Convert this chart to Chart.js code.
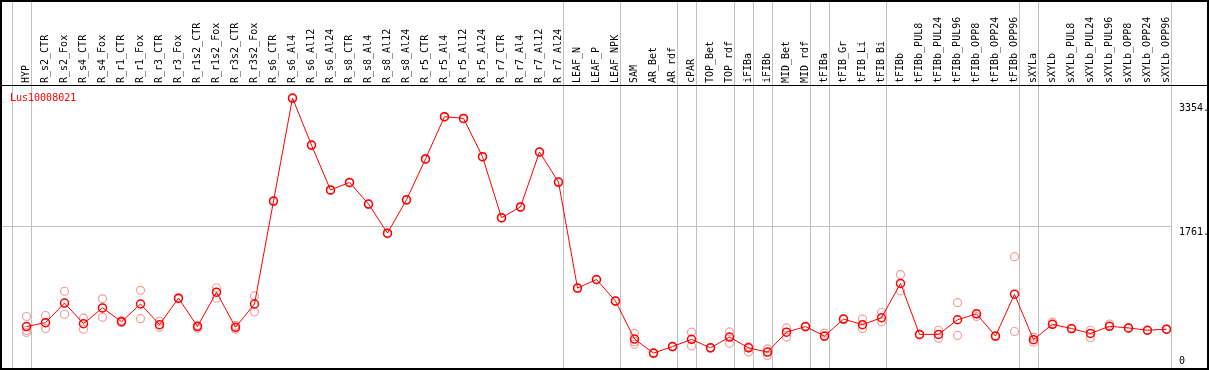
<!DOCTYPE html>
<html>
<head>
<meta charset="utf-8">
<script src="https://cdn.jsdelivr.net/npm/chart.js@4.4.1/dist/chart.umd.min.js"></script>
<style>
  html, body { margin: 0; padding: 0; background: #fff; }
  #wrap { width: 1209px; height: 370px; }
</style>
</head>
<body>
<div id="wrap"><canvas id="expr" width="1209" height="370"></canvas></div>
<script>
// Lus10008021 — expression par échantillon (moyenne + réplicats)

const geneName = "Lus10008021";

const samples = [
  "HYP", "R_s2_CTR", "R_s2_Fox", "R_s4_CTR", "R_s4_Fox", "R_r1_CTR", "R_r1_Fox",
  "R_r3_CTR", "R_r3_Fox", "R_r1s2_CTR", "R_r1s2_Fox", "R_r3s2_CTR", "R_r3s2_Fox",
  "R_s6_CTR", "R_s6_Al4", "R_s6_Al12", "R_s6_Al24", "R_s8_CTR", "R_s8_Al4",
  "R_s8_Al12", "R_s8_Al24", "R_r5_CTR", "R_r5_Al4", "R_r5_Al12", "R_r5_Al24",
  "R_r7_CTR", "R_r7_Al4", "R_r7_Al12", "R_r7_Al24", "LEAF_N", "LEAF_P", "LEAF_NPK",
  "SAM", "AR_Bet", "AR_rdf", "cPAR", "TOP_Bet", "TOP_rdf", "iFIBa", "iFIBb",
  "MID_Bet", "MID_rdf", "tFIBa", "tFIB_Gr", "tFIB_Li", "tFIB_Bi", "tFIBb",
  "tFIBb_PUL8", "tFIBb_PUL24", "tFIBb_PUL96", "tFIBb_OPP8", "tFIBb_OPP24", "tFIBb_OPP96",
  "sXYLa", "sXYLb", "sXYLb_PUL8", "sXYLb_PUL24", "sXYLb_PUL96", "sXYLb_OPP8",
  "sXYLb_OPP24", "sXYLb_OPP96"
];

// moyenne
const meanValues = [
  499, 548, 793, 535, 732, 560, 781, 523, 854, 499, 928, 490, 781,
  2067, 3354, 2766, 2206, 2300, 2030, 1666, 2083, 2594, 3121, 3100, 2622,
  1859, 1994, 2680, 2304, 980, 1087, 817,
  343, 168, 249, 339, 233, 368, 233, 180,
  429, 499, 380, 592, 523, 609, 1038,
  401, 401, 584, 658, 380, 903,
  335, 527, 474, 413, 502, 482, 453, 466
];

// réplicats
const rep1 = [
  625, 637, 940, 604, 845, 576, 952, 564, 858, 515, 984, 515, 882,
  2067, 3354, 2766, 2206, 2300, 2030, 1666, 2083, 2594, 3121, 3100, 2622,
  1859, 1994, 2680, 2304, 980, 1087, 817,
  413, 168, 249, 429, 233, 433, 249, 221,
  482, 499, 417, 592, 592, 678, 1148,
  401, 453, 797, 625, 380, 1372,
  368, 555, 474, 453, 531, 482, 453, 466
];
const rep2 = [
  450, 474, 653, 466, 616, 551, 597, 490, 845, 478, 854, 466, 682,
  2060, 3348, 2760, 2200, 2294, 2024, 1660, 2077, 2588, 3115, 3094, 2616,
  1853, 1988, 2674, 2298, 975, 1082, 812,
  278, 160, 245, 257, 228, 290, 180, 138,
  368, 495, 376, 588, 474, 558, 944,
  395, 352, 388, 658, 376, 437,
  303, 527, 470, 359, 502, 478, 449, 462
];
const rep3 = [
  425, null, null, null, null, null, null, null, null, null, null, null, null,
  null, null, null, null, null, null, null, null, null, null, null, null,
  null, null, null, null, null, null, null,
  310, null, null, null, null, null, null, null,
  null, null, null, null, null, null, null,
  null, null, null, null, null, null,
  null, null, null, null, null, null, null, null
];

// dernier échantillon de chaque groupe (trait vertical gris après)
const groupEnds = [-1, 0, 28, 31, 34, 35, 37, 38, 39, 41, 42, 45, 52, 53, 60];

const yTicks = [0, 1761, 3354];

const MONO = "'DejaVu Sans Mono', monospace";
const PALE = "#f0a0a0";

const ctx = document.getElementById("expr").getContext("2d");

const repDataset = (values) => ({
  data: values,
  showLine: false,
  pointRadius: 4,
  pointBorderWidth: 1.2,
  pointBorderColor: PALE,
  pointBackgroundColor: "rgba(0,0,0,0)"
});

new Chart(ctx, {
  type: "line",
  data: {
    labels: samples,
    datasets: [
      {
        data: meanValues,
        borderColor: "#ff0000",
        borderWidth: 1,
        tension: 0,
        pointRadius: 4,
        pointBorderWidth: 1.5,
        pointBorderColor: "#ff0000",
        pointBackgroundColor: "rgba(0,0,0,0)"
      },
      repDataset(rep1),
      repDataset(rep2),
      repDataset(rep3)
    ]
  },
  options: {
    responsive: false,
    animation: false,
    layout: { padding: { left: 17, top: 0, right: 0, bottom: 0 } },
    scales: {
      x: {
        position: "top",
        offset: true,
        grid: { display: false, drawTicks: false, tickLength: 0 },
        border: { display: false },
        afterFit: s => { s.height = 85; },
        ticks: {
          autoSkip: false,
          minRotation: 90,
          maxRotation: 90,
          padding: 2,
          labelOffset: 12,
          color: "#000",
          font: { family: MONO, size: 10 }
        }
      },
      y: {
        position: "right",
        min: 25,
        max: 3517,
        grid: { display: false },
        border: { display: false },
        ticks: { display: false },
        afterFit: s => { s.width = 33; }
      }
    },
    plugins: {
      legend: { display: false },
      tooltip: { enabled: false }
    }
  },
  plugins: [{
    id: "cadre",
    beforeDatasetsDraw: chart => {
      const c = chart.ctx;
      const xs = chart.scales.x;
      const ys = chart.scales.y;
      const step = xs.getPixelForValue(1) - xs.getPixelForValue(0);
      const H = chart.height;
      c.save();
      c.strokeStyle = "#c0c0c0";
      c.lineWidth = 1;
      // traits de groupe
      groupEnds.forEach(i => {
        const x = Math.round(xs.getPixelForValue(0) + step * (i + 0.24)) + 0.5;
        c.beginPath();
        c.moveTo(x, 0);
        c.lineTo(x, H);
        c.stroke();
      });
      // ligne horizontale au tick du milieu
      const yMid = Math.round(ys.getPixelForValue(yTicks[1])) + 0.5;
      const xEnd = Math.round(xs.getPixelForValue(0) + step * 60.24);
      c.beginPath();
      c.moveTo(2, yMid);
      c.lineTo(xEnd, yMid);
      c.stroke();
      c.restore();
    },
    afterDraw: chart => {
      const c = chart.ctx;
      const ys = chart.scales.y;
      const area = chart.chartArea;
      const W = chart.width, H = chart.height;
      c.save();
      // cadre noir
      c.strokeStyle = "#000";
      c.lineWidth = 2;
      c.strokeRect(1, 1, W - 2, H - 2);
      c.lineWidth = 1;
      c.beginPath();
      c.moveTo(0, area.top + 0.5);
      c.lineTo(W, area.top + 0.5);
      c.stroke();
      // nom du gène
      c.font = "10px " + MONO;
      c.fillStyle = "#ff0000";
      c.textBaseline = "middle";
      c.textAlign = "left";
      c.fillText(geneName, 10, area.top + 13);
      // étiquettes de l'axe y
      c.fillStyle = "#000";
      const xl = area.right + 3;
      c.textBaseline = "top";
      c.fillText(yTicks[2] + ".", xl, area.top + 18);
      c.fillText(yTicks[1] + ".", xl, Math.round(ys.getPixelForValue(yTicks[1])) + 1);
      c.textBaseline = "bottom";
      c.fillText(String(yTicks[0]), xl, H - 4);
      c.restore();
    }
  }]
});
</script>
</body>
</html>
